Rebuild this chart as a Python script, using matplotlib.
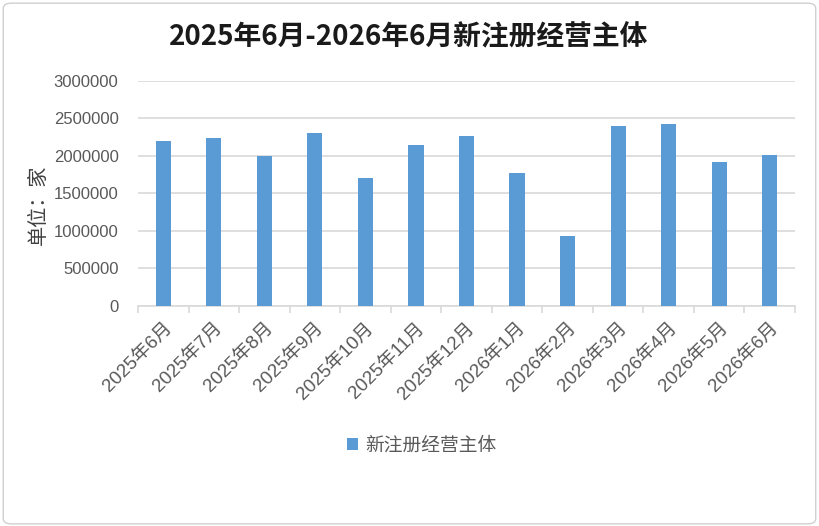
import numpy as np
import matplotlib.pyplot as plt
from matplotlib.patches import FancyBboxPatch

plt.rcParams['font.family'] = ['Liberation Sans', 'Noto Sans CJK SC', 'DejaVu Sans']

months = ['2025年6月', '2025年7月', '2025年8月', '2025年9月', '2025年10月',
          '2025年11月', '2025年12月', '2026年1月', '2026年2月', '2026年3月',
          '2026年4月', '2026年5月', '2026年6月']
counts = [2197000, 2237000, 1997000, 2303000, 1704000, 2143000, 2263000,
          1771000, 932000, 2396000, 2423000, 1917000, 2010000]
yticks = [0, 500000, 1000000, 1500000, 2000000, 2500000, 3000000]

bar_color = '#5B9BD5'
grid_color = '#D9D9D9'
text_gray = '#595959'

fig = plt.figure(figsize=(8.19, 5.26), dpi=100)
fig.patches.append(FancyBboxPatch((0.004, 0.004), 0.992, 0.990,
                                  boxstyle='round,pad=0,rounding_size=0.01',
                                  transform=fig.transFigure, fc='white',
                                  ec='#D0D0D0', lw=1.0, zorder=-10))

ax = fig.add_axes([0.1685, 0.4183, 0.8022, 0.4277])
x = np.arange(len(months))
ax.bar(x, counts, width=0.3, color=bar_color, zorder=3, label='新注册经营主体')

ax.set_xlim(-0.5, len(months) - 0.5)
ax.set_ylim(0, 3000000)
ax.set_yticks(yticks)
ax.set_yticklabels([str(v) for v in yticks])
ax.yaxis.grid(True, color=grid_color, lw=1.2, zorder=0)
ax.tick_params(axis='y', length=0, pad=14, labelsize=12, labelcolor=text_gray)

for s in ['top', 'right', 'left']:
    ax.spines[s].set_visible(False)
ax.spines['bottom'].set_color(grid_color)
ax.spines['bottom'].set_linewidth(1.2)

# category labels at centers, tick marks at boundaries
ax.set_xticks(x)
ax.set_xticklabels(months, rotation=45, ha='right', rotation_mode='anchor')
ax.tick_params(axis='x', which='major', length=0, pad=10, labelsize=13.5,
               labelcolor=text_gray)
ax.set_xticks(np.arange(-0.5, len(months)), minor=True)
ax.tick_params(axis='x', which='minor', length=5, width=1.2, color=grid_color)

ax.set_ylabel('单位：家', fontsize=14.5, color='#404040',
              family=['Noto Sans CJK SC'])
ax.yaxis.set_label_coords(-0.135, 0.45)

fig.suptitle('2025年6月-2026年6月新注册经营主体', x=0.4995, y=0.955,
             fontsize=20, fontweight='bold', color='#1a1a1a',
             family=['Noto Sans CJK SC'])

leg = fig.legend(loc='center', bbox_to_anchor=(0.515, 0.153), frameon=False,
                 fontsize=13.5, handlelength=0.6, handleheight=0.6,
                 handletextpad=0.4)
for t in leg.get_texts():
    t.set_color(text_gray)
    t.set_family(['Noto Sans CJK SC'])

fig.savefig('out.png', dpi=100)
